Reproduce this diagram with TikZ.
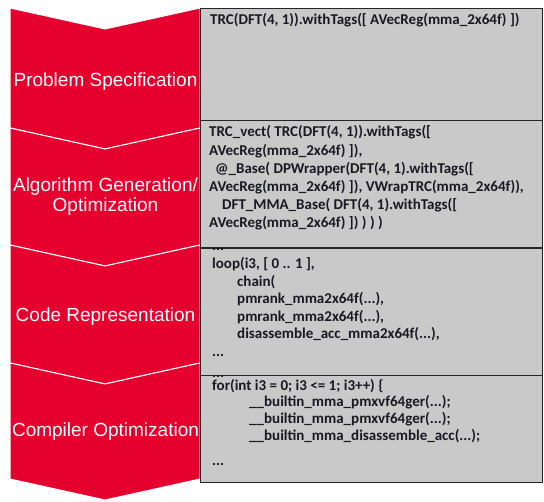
\documentclass[tikz,border=0pt]{standalone}
\usepackage{fontspec}
\setmainfont{Liberation Sans}
\newfontfamily\codefont{Carlito}[BoldFont={* Bold}]
\definecolor{chevred}{RGB}{230,0,46}
\definecolor{boxgray}{RGB}{201,201,201}
\definecolor{codeink}{RGB}{25,25,35}
\tikzset{
  chevron/.style={fill=chevred, draw=white, line width=1pt, line join=miter},
  codebox/.style={fill=boxgray, draw=black!85, line width=1.3pt, inner sep=0pt, anchor=north west, minimum width=342pt},
  steplabel/.style={text=white, font=\fontsize{19}{21}\selectfont, anchor=base, inner sep=0pt},
  codeline/.style={text=codeink, font=\codefont\bfseries\fontsize{15}{18}\selectfont, anchor=base west, inner sep=0pt},
}
\begin{document}
\begin{tikzpicture}[x=1pt,y=-1pt]
\useasboundingbox (0,0) rectangle (544,502);
% chevrons
\foreach \ya/\yb [count=\k] in {8/128,128/245,245/363,363/479}{
  \draw[chevron] (10,\ya) -- (105,\ya+21) -- (200,\ya) -- (200,\yb) -- (105,\yb+21) -- (10,\yb) -- cycle;
}
% boxes
\node[codebox, minimum height=112pt] (box1) at (200,8) {};
\node[codebox, minimum height=127.5pt] (box2) at (200,120) {};
\node[codebox, minimum height=127.5pt] (box3) at (200,247.5) {};
\node[codebox, minimum height=107pt] (box4) at (200,375) {};
% labels
\node[steplabel] (lab1) at (105.5,87) {Problem Specification};
\node[steplabel] (lab2a) at (105.5,191.5) {Algorithm Generation/};
\node[steplabel] (lab2b) at (105.5,212) {Optimization};
\node[steplabel] (lab3) at (105.5,321.5) {Code Representation};
\node[steplabel] (lab4) at (105.5,436.5) {Compiler Optimization};
% box 1
\node[codeline] (c1a) at (210,25) {TRC(DFT(4, 1)).withTags([ AVecReg(mma\_2x64f) ])};
% box 2
\node[codeline] (c2a) at (209,137) {TRC\_vect( TRC(DFT(4, 1)).withTags([};
\node[codeline] (c2b) at (209,155.2) {AVecReg(mma\_2x64f) ]),};
\node[codeline] (c2c) at (215,173.4) {@\_Base( DPWrapper(DFT(4, 1).withTags([};
\node[codeline] (c2d) at (209,191.6) {AVecReg(mma\_2x64f) ]), VWrapTRC(mma\_2x64f)),};
\node[codeline] (c2e) at (222,209.8) {DFT\_MMA\_Base( DFT(4, 1).withTags([};
\node[codeline] (c2f) at (209,228) {AVecReg(mma\_2x64f) ]) ) ) )};
% box 3
\node[codeline] (c3a) at (212,250.5) {...};
\node[codeline] (c3b) at (212,269) {loop(i3, [ 0 .. 1 ],};
\node[codeline] (c3c) at (237,286.5) {chain(};
\node[codeline] (c3d) at (237,304) {pmrank\_mma2x64f(...),};
\node[codeline] (c3e) at (237,321.5) {pmrank\_mma2x64f(...),};
\node[codeline] (c3f) at (237,339) {disassemble\_acc\_mma2x64f(...),};
\node[codeline] (c3g) at (212,357) {...};
% box 4
\node[codeline] (c4a) at (212,377.2) {...};
\node[codeline] (c4b) at (212,390.8) {for(int i3 = 0; i3 <= 1; i3++) \{};
\node[codeline] (c4c) at (249,407) {\_\_builtin\_mma\_pmxvf64ger(...);};
\node[codeline] (c4d) at (249,424) {\_\_builtin\_mma\_pmxvf64ger(...);};
\node[codeline] (c4e) at (249,441) {\_\_builtin\_mma\_disassemble\_acc(...);};
\node[codeline] (c4f) at (212,466) {...};
\end{tikzpicture}
\end{document}
